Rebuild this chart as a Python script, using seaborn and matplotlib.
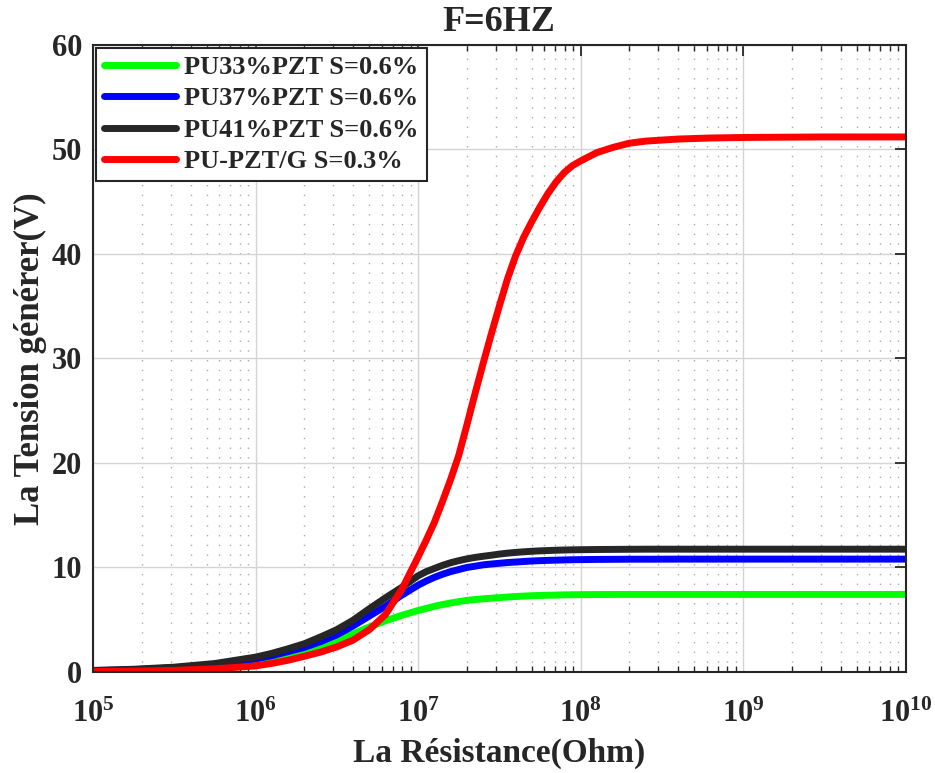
import matplotlib
matplotlib.use("Agg")
import matplotlib.pyplot as plt
import matplotlib.ticker as mticker
import numpy as np
import pandas as pd
import seaborn as sns

# ---------------- data ----------------
# x positions as powers of ten of the resistance (Ohm)
log10_resistance = [5.0, 5.25, 5.5, 5.75, 6.0, 6.1, 6.2, 6.3, 6.4, 6.5, 6.6, 6.7, 6.8, 6.9,
                    7.0, 7.05, 7.1, 7.15, 7.2, 7.25, 7.3, 7.35, 7.4, 7.45, 7.5, 7.55,
                    7.6, 7.65, 7.7, 7.75, 7.8, 7.85, 7.9, 7.95, 8.0, 8.1, 8.2, 8.3,
                    8.4, 8.6, 8.8, 9.0, 9.5, 10.0]

v_pu33 = [0.10, 0.17, 0.30, 0.55, 0.95, 1.20, 1.50, 1.93, 2.45, 3.00, 3.65, 4.30, 4.90, 5.42,
          5.88, 6.08, 6.28, 6.45, 6.60, 6.73, 6.85, 6.93, 7.00, 7.06, 7.11, 7.17,
          7.22, 7.26, 7.30, 7.32, 7.34, 7.36, 7.38, 7.39, 7.40, 7.41, 7.42, 7.42,
          7.42, 7.42, 7.42, 7.42, 7.42, 7.42]
v_pu37 = [0.12, 0.22, 0.40, 0.72, 1.25, 1.55, 1.95, 2.35, 2.90, 3.55, 4.40, 5.35, 6.30, 7.35,
          8.30, 8.70, 9.05, 9.35, 9.60, 9.80, 10.00, 10.12, 10.25, 10.33, 10.40, 10.47,
          10.52, 10.57, 10.62, 10.65, 10.68, 10.70, 10.72, 10.74, 10.75, 10.77, 10.78, 10.79,
          10.79, 10.80, 10.80, 10.80, 10.80, 10.80]
v_pu41 = [0.15, 0.26, 0.46, 0.81, 1.42, 1.78, 2.22, 2.70, 3.35, 4.05, 4.95, 6.05, 7.10, 8.10,
          9.20, 9.60, 9.90, 10.20, 10.45, 10.65, 10.82, 10.96, 11.07, 11.17, 11.28, 11.37,
          11.44, 11.50, 11.55, 11.59, 11.62, 11.65, 11.67, 11.69, 11.70, 11.72, 11.73, 11.74,
          11.75, 11.75, 11.75, 11.75, 11.75, 11.75]
v_pupztg = [0.05, 0.08, 0.15, 0.30, 0.58, 0.82, 1.12, 1.50, 1.90, 2.40, 3.05, 4.05, 5.50, 7.90,
            11.00, 12.60, 14.30, 16.30, 18.40, 20.70, 23.60, 26.60, 29.50, 32.30, 35.00, 37.60,
            39.80, 41.60, 43.10, 44.50, 45.80, 46.90, 47.80, 48.45, 48.90, 49.70, 50.20, 50.60,
            50.80, 51.00, 51.10, 51.15, 51.20, 51.20]

series_names = ["PU33%PZT S=0.6%", "PU37%PZT S=0.6%", "PU41%PZT S=0.6%", "PU-PZT/G S=0.3%"]
series_values = [v_pu33, v_pu37, v_pu41, v_pupztg]
series_colors = ["#00ff00", "#0000ff", "#262626", "#ff0000"]

x_tick_exponents = [5, 6, 7, 8, 9, 10]
y_tick_values = [0, 10, 20, 30, 40, 50, 60]

title_text = "F=6HZ"
x_label = "La Résistance(Ohm)"
y_label = "La Tension générer(V)"

# ---------------- table ----------------
resistance = [10.0 ** e for e in log10_resistance]
frames = []
for name, vals in zip(series_names, series_values):
    frames.append(pd.DataFrame({"R": resistance, "V": vals, "serie": name}))
df = pd.concat(frames, ignore_index=True)

# ---------------- style ----------------
sns.set_theme(style="white")
plt.rcParams["font.family"] = ["Liberation Serif", "DejaVu Serif"]
plt.rcParams["font.weight"] = "bold"
plt.rcParams["mathtext.fontset"] = "custom"
plt.rcParams["mathtext.rm"] = "Liberation Serif:bold"
plt.rcParams["mathtext.bf"] = "Liberation Serif:bold"
plt.rcParams["mathtext.it"] = "Liberation Serif:bold"

fig = plt.figure(figsize=(9.35, 7.73), dpi=100)
ax = fig.add_axes([0.0995, 0.1307, 0.8690, 0.8111])

sns.lineplot(data=df, x="R", y="V", hue="serie", hue_order=series_names,
             palette=series_colors, linewidth=5, ax=ax, legend=False, sort=False)
for ln in ax.get_lines():
    ln.set_solid_joinstyle("round")
    ln.set_solid_capstyle("butt")

ax.set_xscale("log")
ax.set_xlim(1e5, 1e10)
ax.set_ylim(0, 60)

ax.set_xticks([10.0 ** e for e in x_tick_exponents])
ax.set_xticklabels([r"$\mathbf{10^{%d}}$" % e for e in x_tick_exponents])
ax.xaxis.set_minor_locator(mticker.LogLocator(base=10, subs=np.arange(2, 10), numticks=100))
ax.xaxis.set_minor_formatter(mticker.NullFormatter())
ax.set_yticks(y_tick_values)
ax.set_yticklabels([str(v) for v in y_tick_values])

ax.grid(True, which="major", color="#d4d4d4", linewidth=1.0, linestyle="-")
ax.grid(True, which="minor", axis="x", color="#aaaaaa", linewidth=1.0, linestyle=(0, (1, 6)))
ax.set_axisbelow(True)

ax.tick_params(axis="both", which="major", direction="in", length=8, width=1.3,
               top=True, right=True, labelsize=22, colors="#262626", labelcolor="#262626")
ax.tick_params(axis="x", which="minor", direction="in", length=4, width=1.0,
               top=True, bottom=True)
ax.tick_params(axis="x", which="major", pad=20)
ax.tick_params(axis="y", which="major", pad=8)
for lab in ax.get_yticklabels():
    lab.set_fontweight("bold")

for sp in ax.spines.values():
    sp.set_visible(True)
    sp.set_color("#262626")
    sp.set_linewidth(1.5)

ax.set_xlabel(x_label, fontsize=24, fontweight="bold", color="#262626", labelpad=6)
ax.set_ylabel(y_label, fontsize=25, fontweight="bold", color="#262626", labelpad=3)
ax.set_title(title_text, fontsize=26, fontweight="bold", color="#262626", pad=10)

handles = [plt.Line2D([], [], color=c, linewidth=5) for c in series_colors]
leg = ax.legend(handles, series_names, loc="upper left", bbox_to_anchor=(0, 1),
                borderaxespad=0.1, fancybox=False, framealpha=1, edgecolor="#262626",
                prop={"family": "Liberation Serif", "weight": "bold", "size": 19},
                handlelength=2.76, handletextpad=0.3, labelspacing=0.3, borderpad=0.3)
leg.get_frame().set_linewidth(1.5)
for t in leg.get_texts():
    t.set_color("#262626")

fig.savefig("out.png", dpi=100)
